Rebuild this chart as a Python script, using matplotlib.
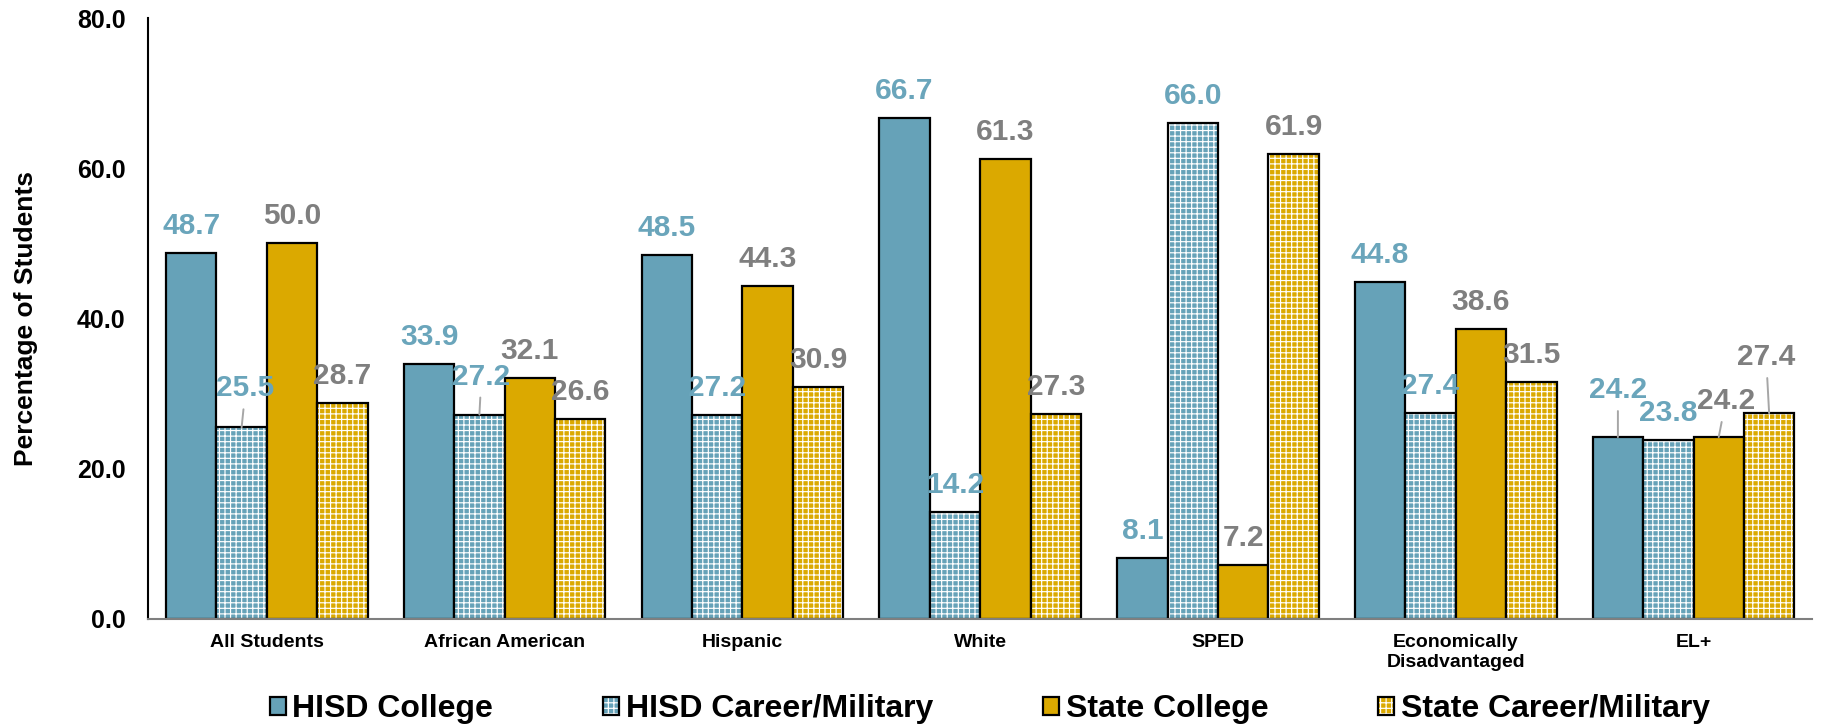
import matplotlib.pyplot as plt
import numpy as np

plt.rcParams["font.family"] = ["Liberation Sans", "DejaVu Sans"]
plt.rcParams["font.weight"] = "bold"
plt.rcParams["hatch.linewidth"] = 0.85

categories = ["All Students", "African American", "Hispanic", "White", "SPED",
              "Economically\nDisadvantaged", "EL+"]
series = ["HISD College", "HISD Career/Military", "State College", "State Career/Military"]
hisd_college = [48.7, 33.9, 48.5, 66.7, 8.1, 44.8, 24.2]
hisd_career = [25.5, 27.2, 27.2, 14.2, 66.0, 27.4, 23.8]
state_college = [50.0, 32.1, 44.3, 61.3, 7.2, 38.6, 24.2]
state_career = [28.7, 26.6, 30.9, 27.3, 61.9, 31.5, 27.4]

values = [hisd_college, hisd_career, state_college, state_career]
colors = ["#66a2b8", "#66a2b8", "#dba900", "#dba900"]
hatches = [None, "+++", None, "+++"]
label_colors = ["#6aa5bb", "#6aa5bb", "#7f7f7f", "#7f7f7f"]

# labels that sit higher with a leader line: (group, series) -> (dx px, dy px)
moved = {(0, 1): (4, 39), (1, 1): (2, 38), (6, 0): (0, 47), (6, 2): (7, 36), (6, 3): (-3, 56)}

fig = plt.figure(figsize=(18.4, 7.28), dpi=100)
ax = fig.add_axes([0.0804, 0.150, 0.9046, 0.825])

x = np.arange(len(categories))
w = 0.212
handles = []
for i, vals in enumerate(values):
    pos = x + (i - 1.5) * w
    if hatches[i]:
        b1 = ax.bar(pos, vals, w, color=colors[i], edgecolor="white", hatch=hatches[i], linewidth=0)
    else:
        b1 = ax.bar(pos, vals, w, color=colors[i], linewidth=0)
    b2 = ax.bar(pos, vals, w, fill=False, edgecolor="black", linewidth=1.6)
    handles.append((b1[0], b2[0]))
    for j, v in enumerate(vals):
        if (j, i) in moved:
            dx, dy = moved[(j, i)]
            ax.annotate("%.1f" % v, xy=(pos[j], v), xytext=(dx / 1.389, dy / 1.389),
                        textcoords="offset points", ha="center", va="center",
                        fontsize=21.5, fontweight="bold", color=label_colors[i],
                        arrowprops=dict(arrowstyle="-", color="#a6a6a6", lw=1.4,
                                        shrinkA=3, shrinkB=0))
        else:
            ax.annotate("%.1f" % v, xy=(pos[j], v), xytext=(0, 27 / 1.389),
                        textcoords="offset points", ha="center", va="center",
                        fontsize=21.5, fontweight="bold", color=label_colors[i])

ax.set_xlim(-0.5, 6.5)
ax.set_ylim(0, 80)
ax.set_yticks([0, 20, 40, 60, 80])
ax.set_yticklabels(["%.1f" % t for t in [0, 20, 40, 60, 80]], fontsize=18, fontweight="bold")
ax.set_xticks(x)
ax.set_xticklabels(categories, fontsize=14, fontweight="bold")
ax.tick_params(axis="y", length=0, pad=16)
ax.tick_params(axis="x", length=0, pad=11)
ax.set_ylabel("Percentage of Students", fontsize=19, fontweight="bold")
ax.yaxis.set_label_coords(-0.066, 0.5)
ax.spines["top"].set_visible(False)
ax.spines["right"].set_visible(False)
ax.spines["left"].set_linewidth(1.5)
ax.spines["bottom"].set_color("#7f7f7f")
ax.spines["bottom"].set_linewidth(1.5)

fig.legend(handles, series, loc="center", bbox_to_anchor=(0.538, 0.026), ncol=4,
           frameon=False, prop={"size": 23, "weight": "bold"}, handlelength=0.5,
           handleheight=0.5, handletextpad=0.2, columnspacing=3.45)

fig.savefig("out.png", dpi=100)
